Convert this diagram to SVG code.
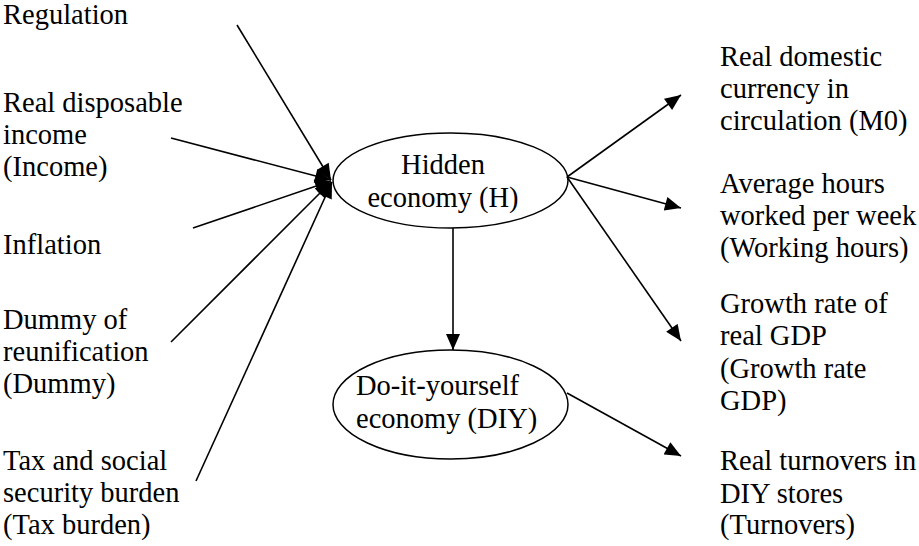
<svg xmlns="http://www.w3.org/2000/svg" width="919" height="546" viewBox="0 0 919 546">
  <style>
    .node { fill: #fff; stroke: #000; stroke-width: 1.5; }
    .edge { stroke: #000; stroke-width: 1.6; fill: none; marker-end: url(#head); }
  </style>
  <defs>
    <marker id="head" viewBox="0 0 16 14" refX="16" refY="7" markerWidth="17" markerHeight="14" markerUnits="userSpaceOnUse" orient="auto">
      <path d="M0,0 L16,7 L0,14 Z" fill="#000"/>
    </marker>
  </defs>

  <!-- all labels share one serif face -->
  <g font-family="Times New Roman, Liberation Serif, serif" font-size="28.5" fill="#000">

    <!-- causes (left) -->
    <g id="regulation"><text x="3" y="24">Regulation</text></g>
    <g id="income">
      <text x="3" y="112">Real disposable</text>
      <text x="3" y="144">income</text>
      <text x="3" y="176">(Income)</text>
    </g>
    <g id="inflation"><text x="3" y="254">Inflation</text></g>
    <g id="dummy">
      <text x="3" y="329">Dummy of</text>
      <text x="3" y="361">reunification</text>
      <text x="3" y="393">(Dummy)</text>
    </g>
    <g id="tax-burden">
      <text x="3" y="470">Tax and social</text>
      <text x="3" y="502">security burden</text>
      <text x="3" y="534">(Tax burden)</text>
    </g>

    <!-- latent variables -->
    <g id="hidden-economy">
      <ellipse class="node" cx="450.5" cy="180.5" rx="117.5" ry="47.5"/>
      <text x="443" y="174" text-anchor="middle">Hidden</text>
      <text x="443" y="207" text-anchor="middle">economy (H)</text>
    </g>
    <g id="diy-economy">
      <ellipse class="node" cx="450.5" cy="404.5" rx="117.5" ry="54.5"/>
      <text x="356" y="395">Do-it-yourself</text>
      <text x="356" y="428">economy (DIY)</text>
    </g>

    <!-- indicators (right) -->
    <g id="m0">
      <text x="720" y="66">Real domestic</text>
      <text x="720" y="98">currency in</text>
      <text x="720" y="130">circulation (M0)</text>
    </g>
    <g id="working-hours">
      <text x="720" y="193">Average hours</text>
      <text x="720" y="225">worked per week</text>
      <text x="720" y="257">(Working hours)</text>
    </g>
    <g id="growth-gdp">
      <text x="720" y="313">Growth rate of</text>
      <text x="720" y="345">real GDP</text>
      <text x="720" y="378">(Growth rate</text>
      <text x="720" y="410">GDP)</text>
    </g>
    <g id="turnovers">
      <text x="720" y="470">Real turnovers in</text>
      <text x="720" y="503">DIY stores</text>
      <text x="720" y="534">(Turnovers)</text>
    </g>
  </g>

  <!-- connectors -->
  <g id="connectors">
    <line class="edge" x1="237" y1="25" x2="331" y2="180"/>
    <line class="edge" x1="171" y1="138" x2="331" y2="180"/>
    <line class="edge" x1="193" y1="228" x2="331" y2="181"/>
    <line class="edge" x1="171" y1="342" x2="331" y2="182"/>
    <line class="edge" x1="196" y1="481" x2="332" y2="182"/>
    <line class="edge" x1="453" y1="228" x2="453" y2="350"/>
    <line class="edge" x1="567" y1="177" x2="681" y2="95"/>
    <line class="edge" x1="567" y1="177" x2="681" y2="208"/>
    <line class="edge" x1="567" y1="177" x2="681" y2="341"/>
    <line class="edge" x1="567" y1="393" x2="681" y2="456"/>
  </g>
</svg>
